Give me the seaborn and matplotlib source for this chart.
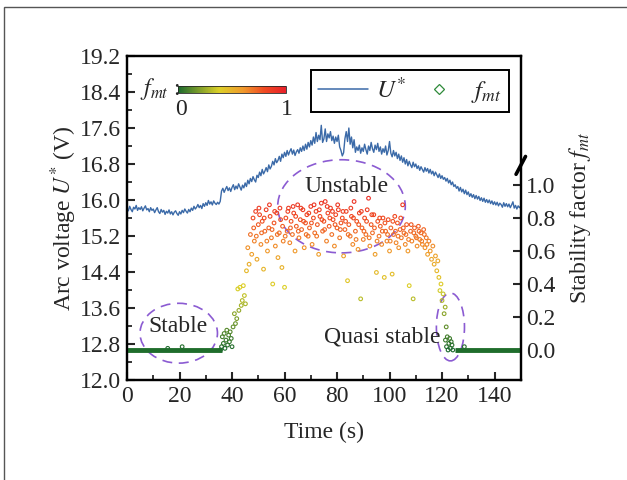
import matplotlib
matplotlib.use("Agg")
import matplotlib.pyplot as plt
import seaborn as sns
import numpy as np
import pandas as pd
from matplotlib.colors import LinearSegmentedColormap, Normalize
from matplotlib.cm import ScalarMappable
from matplotlib.lines import Line2D
from matplotlib.patches import Ellipse, Rectangle

# ---- arc voltage U* (V), sampled every 0.5 s from 0 to 150 s
time_u = [i * 0.5 for i in range(301)]
u_star = [
    15.82, 15.76, 15.86, 15.79, 15.74, 15.84, 15.80, 15.88, 15.77, 15.83,
    15.79, 15.85, 15.76, 15.82, 15.87, 15.78, 15.81, 15.74, 15.83, 15.77,
    15.80, 15.72, 15.78, 15.83, 15.74, 15.70, 15.79, 15.73, 15.77, 15.68,
    15.75, 15.71, 15.78, 15.69, 15.74, 15.67, 15.73, 15.76, 15.70, 15.66,
    15.74, 15.69, 15.77, 15.72, 15.80, 15.75, 15.71, 15.79, 15.74, 15.82,
    15.77, 15.86, 15.80, 15.84, 15.90, 15.83, 15.88, 15.81, 15.92, 15.86,
    15.94, 15.88, 15.99, 15.91, 15.96, 15.89, 15.98, 15.93, 15.90, 15.95,
    15.91, 15.97, 16.20, 16.26, 16.17, 16.24, 16.30, 16.21, 16.27, 16.19,
    16.28, 16.34, 16.23, 16.31, 16.25, 16.36, 16.29, 16.22, 16.33, 16.27,
    16.38, 16.30, 16.44, 16.36, 16.48, 16.41, 16.52, 16.45, 16.40, 16.55,
    16.50, 16.62, 16.54, 16.68, 16.58, 16.64, 16.72, 16.63, 16.78, 16.69,
    16.75, 16.86, 16.78, 16.92, 16.83, 16.88, 16.97, 16.86, 17.02, 16.94,
    17.06, 16.97, 17.10, 17.00, 17.08, 17.14, 17.02, 17.11, 16.99, 17.07,
    17.12, 17.04, 17.16, 17.08, 17.20, 17.10, 17.24, 17.13, 17.28, 17.18,
    17.32, 17.22, 17.40, 17.26, 17.50, 17.30, 17.44, 17.34, 17.66, 17.28,
    17.36, 17.58, 17.30, 17.47, 17.38, 17.52, 17.32, 17.42, 17.26, 17.40,
    17.30, 17.44, 17.18, 17.10, 16.98, 17.05, 17.36, 17.52, 17.30, 17.60,
    17.24, 17.40, 17.16, 17.34, 17.06, 17.18, 17.10, 17.22, 17.04, 17.16,
    17.08, 17.24, 17.12, 17.02, 17.20, 17.10, 17.28, 17.14, 17.06, 17.22,
    17.12, 17.26, 17.08, 17.18, 17.02, 17.14, 17.06, 17.20, 17.00, 17.10,
    17.30, 17.04, 16.96, 17.10, 16.98, 17.06, 16.92, 17.02, 16.88, 16.98,
    16.84, 16.94, 16.80, 16.90, 16.76, 16.86, 16.78, 16.72, 16.84, 16.74,
    16.80, 16.70, 16.76, 16.66, 16.74, 16.68, 16.62, 16.72, 16.64, 16.70,
    16.60, 16.68, 16.58, 16.64, 16.54, 16.62, 16.56, 16.50, 16.58, 16.48,
    16.54, 16.46, 16.50, 16.42, 16.48, 16.38, 16.44, 16.34, 16.40, 16.30,
    16.34, 16.26, 16.30, 16.20, 16.28, 16.18, 16.24, 16.14, 16.22, 16.12,
    16.18, 16.08, 16.14, 16.06, 16.12, 16.03, 16.10, 16.02, 16.08, 15.99,
    16.05, 15.97, 16.04, 15.95, 16.01, 15.94, 16.00, 15.92, 15.98, 15.90,
    15.96, 15.89, 15.95, 15.87, 15.93, 15.90, 15.84, 15.94, 15.86, 15.92,
    15.85, 15.91, 15.83, 15.89, 15.96, 15.82, 15.88, 15.80, 15.87, 15.83,
    15.86,
]

# ---- stability factor f_mt scatter points
time_f = [
    15.5, 21.0,
    35.6, 36.0, 36.3, 36.7, 37.0, 37.3, 37.7, 38.0, 38.3, 38.7, 39.0, 39.3, 39.7, 40.0,
    40.4, 40.9, 41.3, 41.8, 42.2, 42.6, 43.0, 43.5, 43.9, 44.3, 44.7, 45.1, 45.5,
    46.0, 46.5, 47.0, 47.5, 48.0, 48.5, 49.0, 49.5, 50.0,
    50.5, 51.0, 51.5, 52.0, 52.5, 53.0, 53.5, 54.0, 54.5, 55.0,
    55.5, 56.0, 56.5, 57.0, 57.5, 58.0, 58.5, 59.0, 59.5, 60.0,
    60.5, 61.0, 61.5, 62.0, 62.5, 63.0, 63.5, 64.0, 64.5, 65.0,
    65.5, 66.0, 66.5, 67.0, 67.5, 68.0, 68.5, 69.0, 69.5, 70.0,
    70.5, 71.0, 71.5, 72.0, 72.5, 73.0, 73.5, 74.0, 74.5, 75.0,
    75.5, 76.0, 76.5, 77.0, 77.5, 78.0, 78.5, 79.0, 79.5, 80.0,
    80.5, 81.0, 81.5, 82.0, 82.5, 83.0, 83.5, 84.0, 84.5, 85.0,
    85.5, 86.0, 86.5, 87.0, 87.5, 88.0, 88.5, 89.0, 89.5, 90.0,
    90.5, 91.0, 91.5, 92.0, 92.5, 93.0, 93.5, 94.0, 94.5, 95.0,
    95.5, 96.0, 96.5, 97.0, 97.5, 98.0, 98.5, 99.0, 99.5, 100.0,
    100.5, 101.0, 101.5, 102.0, 102.5, 103.0, 103.5, 104.0, 104.5, 105.0,
    105.5, 106.0, 106.5, 107.0, 107.5, 108.0, 108.5, 109.0, 109.5, 110.0,
    110.5, 111.0, 111.5, 112.0, 112.5, 113.0, 113.5, 114.0, 114.5, 115.0,
    115.5, 116.0, 116.5, 117.0, 117.5,
    118.0, 118.4, 118.8, 119.2, 119.6, 120.0, 120.4, 120.8, 121.2, 121.6,
    121.3, 121.7, 122.0, 122.3, 122.6, 122.9, 123.2, 123.5, 123.8, 124.1, 128.5,
]
f_mt = [
    0.01, 0.02,
    0.00, 0.02, 0.08, 0.04, 0.10, 0.01, 0.06, 0.12, 0.03, 0.09, 0.05, 0.11, 0.07, 0.02,
    0.14, 0.22, 0.16, 0.19, 0.37, 0.24, 0.38, 0.27, 0.30, 0.39, 0.33, 0.28, 0.48,
    0.62, 0.52, 0.70, 0.58, 0.80, 0.66, 0.84, 0.55, 0.76,
    0.82, 0.64, 0.78, 0.49, 0.72, 0.85, 0.60, 0.74, 0.81, 0.68,
    0.40, 0.77, 0.63, 0.83, 0.56, 0.71, 0.79, 0.50, 0.66, 0.38,
    0.80, 0.72, 0.86, 0.65, 0.78, 0.70, 0.83, 0.60, 0.75, 0.88,
    0.68, 0.79, 0.73, 0.85, 0.62, 0.77, 0.82, 0.69, 0.74, 0.87,
    0.64, 0.80, 0.71, 0.84, 0.76, 0.58, 0.81, 0.89, 0.72, 0.78,
    0.90, 0.66, 0.83, 0.75, 0.86, 0.70, 0.79, 0.63, 0.82, 0.74,
    0.85, 0.68, 0.77, 0.80, 0.57, 0.73, 0.84, 0.42, 0.76, 0.69,
    0.81, 0.64, 0.90, 0.72, 0.78, 0.61, 0.83, 0.31, 0.74, 0.67,
    0.80, 0.70, 0.85, 0.92, 0.63, 0.76, 0.71, 0.82, 0.58, 0.47,
    0.78, 0.69, 0.75, 0.64, 0.80, 0.44, 0.72, 0.66, 0.79, 0.60,
    0.74, 0.46, 0.70, 0.81, 0.65, 0.77, 0.62, 0.73, 0.68, 0.88,
    0.71, 0.64, 0.76, 0.60, 0.39, 0.72, 0.66, 0.31, 0.74, 0.69,
    0.63, 0.75, 0.67, 0.71, 0.64, 0.73, 0.62, 0.68, 0.58, 0.66,
    0.60, 0.55, 0.63, 0.52, 0.57,
    0.48, 0.54, 0.44, 0.36, 0.40, 0.30, 0.34, 0.22, 0.26, 0.14,
    0.06, 0.02, 0.08, 0.00, 0.04, 0.07, 0.01, 0.05, 0.03, 0.00, 0.02,
]
# second, interleaved batch of points inside the unstable band
time_f_band = [
    48.25, 49.25, 50.25, 51.25, 52.25, 53.25, 54.25, 55.25, 56.25, 57.25,
    58.25, 59.25, 60.25, 61.25, 62.25, 63.25, 64.25, 65.25, 66.25, 67.25,
    68.25, 69.25, 70.25, 71.25, 72.25, 73.25, 74.25, 75.25, 76.25, 77.25,
    78.25, 79.25, 80.25, 81.25, 82.25, 83.25, 84.25, 85.25, 86.25, 87.25,
    88.25, 89.25, 90.25, 91.25, 92.25, 93.25, 94.25, 95.25, 96.25, 97.25,
    98.25, 99.25, 100.25, 101.25, 102.25, 103.25, 104.25, 105.25, 106.25, 107.25,
    108.25, 109.25, 110.25, 111.25, 112.25, 113.25, 114.25,
]
f_mt_band = [
    0.74, 0.69, 0.86, 0.71, 0.80, 0.66, 0.88, 0.73, 0.84, 0.70,
    0.86, 0.75, 0.69, 0.84, 0.74, 0.87, 0.81, 0.72, 0.86, 0.78,
    0.70, 0.83, 0.77, 0.88, 0.69, 0.85, 0.79, 0.73, 0.87, 0.80,
    0.84, 0.76, 0.88, 0.73, 0.84, 0.78, 0.70, 0.86, 0.80, 0.67,
    0.76, 0.84, 0.72, 0.78, 0.68, 0.82, 0.74, 0.66, 0.80, 0.72,
    0.77, 0.70, 0.66, 0.78, 0.72, 0.69, 0.80, 0.74, 0.70, 0.67,
    0.76, 0.71, 0.68, 0.72, 0.66, 0.70, 0.64,
]

# time spans where f_mt stays at zero
stable_start = [0, 125]
stable_end = [36, 150]

sns.set_theme(style="ticks")
plt.rcParams["font.family"] = ["Liberation Serif", "DejaVu Serif"]
plt.rcParams["mathtext.fontset"] = "stix"

cmap = LinearSegmentedColormap.from_list(
    "fmt", [(0.0, "#1c6a2e"), (0.38, "#dcd028"), (0.6, "#f09a2c"),
            (0.8, "#f04a22"), (1.0, "#e8202a")])
norm = Normalize(0, 1)
line_blue = "#3b6aa8"
dark_green = "#1f6d2c"
purple = "#8b5bd2"

fig = plt.figure(figsize=(6.27, 4.8), dpi=100)
ax = fig.add_axes([0.2026, 0.2083, 0.628, 0.675])
ax2 = ax.twinx()

df_u = pd.DataFrame({"t": time_u, "u": u_star})
sns.lineplot(data=df_u, x="t", y="u", ax=ax, color=line_blue, lw=1.0)

ax2.hlines([0] * len(stable_start), stable_start, stable_end,
           color=dark_green, lw=3.5)
df_f = pd.DataFrame({"t": time_f + time_f_band, "f": f_mt + f_mt_band})
sns.scatterplot(data=df_f, x="t", y="f", hue="f", palette=cmap, hue_norm=norm,
                ax=ax2, s=7, marker="o", linewidth=0.8, legend=False)
pts = ax2.collections[-1]
pts.set_edgecolors(pts.get_facecolors())
pts.set_facecolors("none")

ax.set_xlim(0, 150)
ax.set_ylim(12.0, 19.2)
ax.set_xticks(np.arange(0, 141, 20))
ax.set_xticks(np.arange(10, 151, 20), minor=True)
ax.set_yticks(np.arange(12.0, 19.21, 0.8))
ax.set_yticks(np.arange(12.4, 19.2, 0.8), minor=True)
ax.set_yticklabels([f"{v:.1f}" for v in np.arange(12.0, 19.21, 0.8)])
ax2.set_ylim(-0.182, 1.782)
ax2.set_yticks(np.arange(0, 1.01, 0.2))
ax2.set_yticklabels([f"{v:.1f}" for v in np.arange(0, 1.01, 0.2)])

for a in (ax, ax2):
    for sp in a.spines.values():
        sp.set_linewidth(1.6)
        sp.set_color("black")
ax.tick_params(axis="both", which="major", direction="in", length=6, width=1.5,
               labelsize=17, top=False, right=False, pad=4)
ax.tick_params(axis="both", which="minor", direction="in", length=3.5, width=1.3,
               top=False, right=False)
ax2.tick_params(axis="y", which="major", direction="in", length=6, width=1.5,
                labelsize=17, pad=4)

ax.set_xlabel("Time (s)", fontsize=17, labelpad=11)
ax.set_ylabel("Arc voltage $U^{*}$ (V)", fontsize=17, labelpad=1)
ax2.set_ylabel("Stability factor $f_{mt}$", fontsize=17, labelpad=8)

# break mark on the right axis
ax2.plot([0.988, 1.012], [0.635, 0.69], transform=ax2.transAxes,
         color="black", lw=2.6, clip_on=False)

# dashed ellipses and region labels
for (cx, cy, w, h) in [(19.7, 13.04, 29.5, 1.33), (81.7, 15.86, 48.6, 2.07),
                       (123.2, 13.18, 10.7, 1.51)]:
    ax.add_patch(Ellipse((cx, cy), w, h, fill=False, ec=purple, lw=1.2,
                         ls=(0, (6, 4))))
ax.text(19.5, 13.18, "Stable", fontsize=17, ha="center", va="center")
ax.text(83.5, 16.30, "Unstable", fontsize=17, ha="center", va="center")
ax.text(97.4, 12.96, "Quasi stable", fontsize=17, ha="center", va="center")

handles = [Line2D([], [], color=line_blue, lw=1.1),
           Line2D([], [], ls="none", marker="D", ms=5, mfc="none",
                  mec="#2e8a3a", mew=0.9)]
leg = ax.legend(handles, ["$U^{*}$", "$f_{mt}$"], ncol=2, fontsize=18,
                loc="upper right", bbox_to_anchor=(0.970, 0.956),
                borderaxespad=0, fancybox=False, framealpha=1,
                edgecolor="black", handlelength=2.0, columnspacing=0.3,
                handletextpad=0.3, borderpad=0.3)
leg.get_frame().set_linewidth(1.4)

# inset colour bar for f_mt
cax = fig.add_axes([0.284, 0.8056, 0.1722, 0.0158])
cb = fig.colorbar(ScalarMappable(norm=norm, cmap=cmap), cax=cax,
                  orientation="horizontal")
cb.set_ticks([])
cb.outline.set_linewidth(0.6)
fig.text(0.255, 0.815, "$f_{mt}$ :", fontsize=17, ha="center", va="center")
fig.text(0.289, 0.772, "0", fontsize=17, ha="center", va="center")
fig.text(0.458, 0.772, "1", fontsize=17, ha="center", va="center")

# outer frame
fig.patches.append(Rectangle((0.0064, -0.1), 1.2, 1.0854, transform=fig.transFigure,
                             fill=False, ec="#555555", lw=1.0))

fig.savefig("out.png", dpi=100)
